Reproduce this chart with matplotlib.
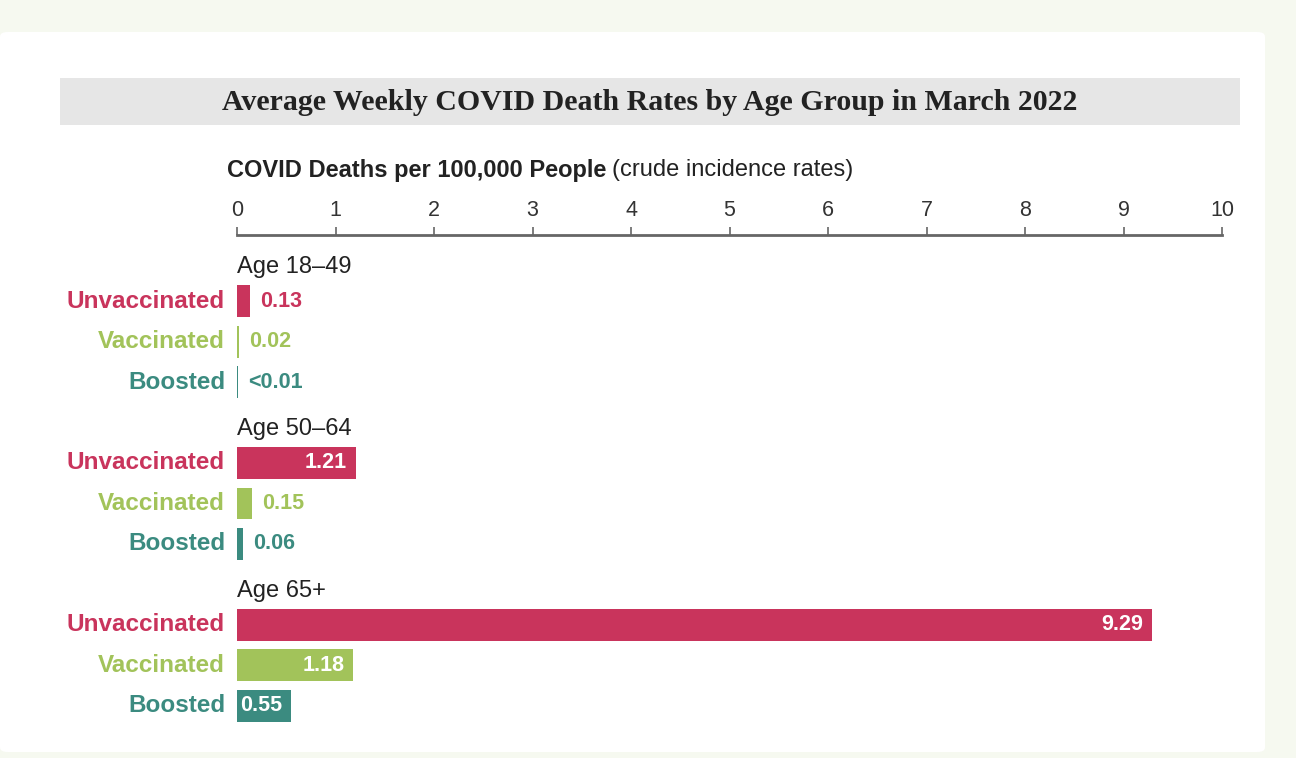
import matplotlib.pyplot as plt
from matplotlib.patches import FancyBboxPatch, Rectangle

# Data
age_groups = ["Age 18\u201349", "Age 50\u201364", "Age 65+"]
statuses = ["Unvaccinated", "Vaccinated", "Boosted"]
rates = [
    [0.13, 0.02, 0.008],
    [1.21, 0.15, 0.06],
    [9.29, 1.18, 0.55],
]
rate_labels = [
    ["0.13", "0.02", "<0.01"],
    ["1.21", "0.15", "0.06"],
    ["9.29", "1.18", "0.55"],
]
colors = ["#c9345c", "#a2c35a", "#3b8b80"]
x_ticks = list(range(0, 11))

W, H = 1296, 758
fig = plt.figure(figsize=(W / 100, H / 100), dpi=100)
fig.patch.set_facecolor("#f6f9f0")

# white card and grey title band
card = FancyBboxPatch((0 / W, 1 - 752 / H), 1265 / W, 720 / H,
                      boxstyle="round,pad=0,rounding_size=0.006",
                      transform=fig.transFigure, facecolor="white",
                      edgecolor="none", zorder=-2)
fig.patches.append(card)
band = Rectangle((60 / W, 1 - 125 / H), 1180 / W, 47 / H,
                 transform=fig.transFigure, facecolor="#e6e6e6",
                 edgecolor="none", zorder=-1)
fig.patches.append(band)
fig.text(650 / W, 1 - 102 / H,
         "Average Weekly COVID Death Rates by Age Group in March 2022",
         ha="center", va="center", fontsize=21.5, fontweight="bold",
         family="Liberation Serif", color="#222222")

# axes: x 0..10 maps pixel 237..1222, y rows 40.5 px apart
ax = fig.add_axes([237 / W, 1 - 740 / H, 985 / W, 505 / H])
ax.set_zorder(5)
ax.set_facecolor("none")
ax.set_xlim(0, 10)
ax.set_ylim(11.84, -0.63)

bar_h = 0.79
for g, group in enumerate(age_groups):
    base = g * 4
    ax.text(0, base + 0.15, group, ha="left", va="center", fontsize=17,
            family="Liberation Sans", color="#222222")
    for r, status in enumerate(statuses):
        y = base + r + 1
        v = rates[g][r]
        ax.barh(y, v, height=bar_h, color=colors[r], left=0)
        ax.annotate(status, (0, y), xytext=(-12, 0), textcoords="offset pixels",
                    ha="right", va="center", fontsize=17.5, fontweight="bold",
                    family="Liberation Sans", color=colors[r])
        if v >= 0.5:
            ax.annotate(rate_labels[g][r], (v, y), xytext=(-9, 0),
                        textcoords="offset pixels", ha="right", va="center",
                        fontsize=15.5, fontweight="bold",
                        family="Liberation Sans", color="white")
        else:
            ax.annotate(rate_labels[g][r], (v, y), xytext=(10, 0),
                        textcoords="offset pixels", ha="left", va="center",
                        fontsize=15.5, fontweight="bold",
                        family="Liberation Sans", color=colors[r])

for side in ["right", "bottom", "left"]:
    ax.spines[side].set_visible(False)
ax.spines["top"].set_color("#666666")
ax.spines["top"].set_linewidth(2)
ax.xaxis.set_ticks_position("top")
ax.set_xticks(x_ticks)
ax.set_xticklabels([str(t) for t in x_ticks], family="Liberation Sans",
                   fontsize=15.5, color="#333333")
ax.tick_params(axis="x", direction="out", length=6, width=1.2,
               colors="#666666", labelcolor="#333333", pad=4)
ax.set_yticks([])

# axis title: bold part + regular part
fig.canvas.draw()
t1 = fig.text(227 / W, 1 - 170 / H, "COVID Deaths per 100,000 People",
              ha="left", va="center", fontsize=17, fontweight="bold",
              family="Liberation Sans", color="#222222")
fig.canvas.draw()
bb = t1.get_window_extent()
fig.text((bb.x1 + 6) / W, 1 - 170 / H, "(crude incidence rates)",
         ha="left", va="center", fontsize=17, family="Liberation Sans",
         color="#222222")

fig.savefig("out.png", dpi=100, facecolor=fig.get_facecolor())
